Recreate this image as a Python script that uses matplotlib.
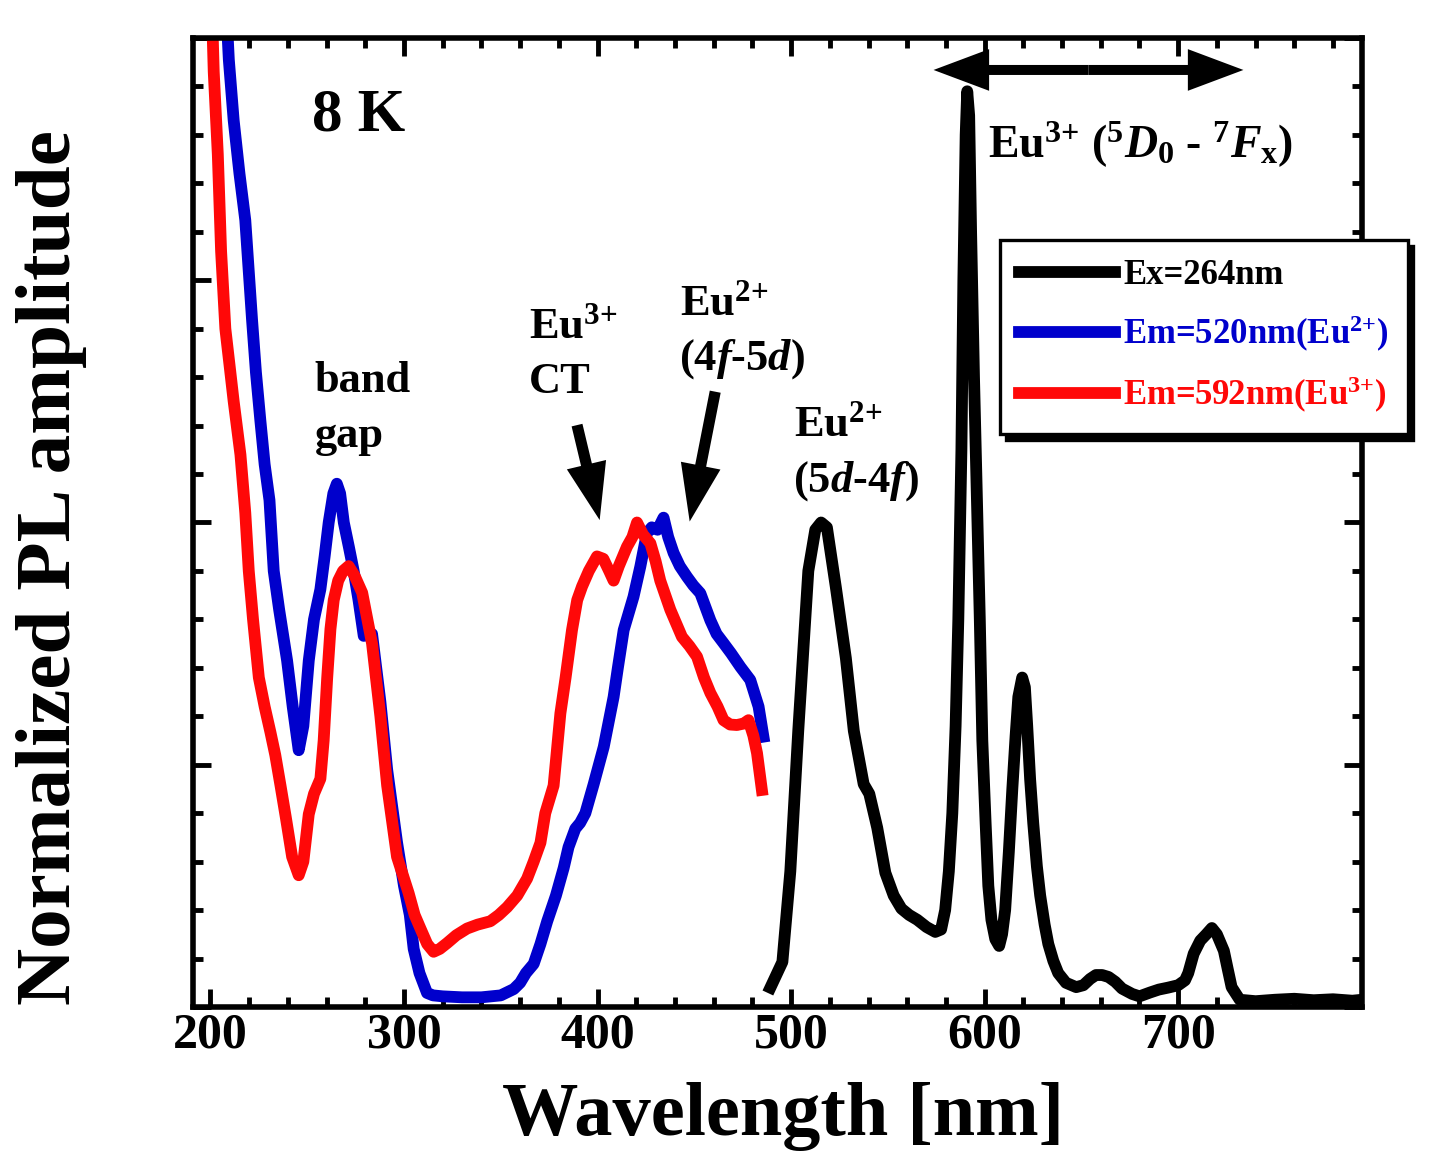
import numpy as np
import matplotlib
matplotlib.use('Agg')
from matplotlib import pyplot as plt
from matplotlib.ticker import MultipleLocator

plt.rcParams['font.family'] = ['Liberation Serif', 'DejaVu Serif']
plt.rcParams['font.weight'] = 'bold'
plt.rcParams['axes.labelweight'] = 'bold'
plt.rcParams['mathtext.fontset'] = 'custom'
plt.rcParams['mathtext.rm'] = 'Liberation Serif:bold'
plt.rcParams['mathtext.bf'] = 'Liberation Serif:bold'
plt.rcParams['mathtext.it'] = 'Liberation Serif:italic:bold'

# Ex=264nm emission spectrum (black)
ex_wl = [489.3, 495.5, 499.6, 503.7, 508.9, 512.5, 515.5, 518.5, 523.1, 528.3,
         532.4, 537.5, 540.4, 544.5, 548.7, 553.0, 557.0, 561.0, 565.2, 570.0,
         574.5, 577.5, 579.6, 581.5, 583.3, 585.0, 586.4, 588.0, 589.0, 590.2,
         591.0, 592.0, 593.0, 594.5, 595.7, 597.5, 598.8, 600.5, 601.9, 603.5,
         605.5, 607.5, 609.0, 610.6, 612.5, 614.3, 616.0, 617.4, 619.4, 620.8,
         622.0, 623.5, 625.1, 627.0, 628.7, 631.0, 632.9, 635.5, 638.0, 642.0,
         647.3, 651.0, 654.5, 657.5, 660.7, 664.0, 667.5, 671.0, 676.2, 680.0,
         685.5, 690.0, 694.8, 700.0, 703.5, 705.2, 708.0, 711.4, 714.5, 717.4,
         720.0, 723.6, 725.5, 727.6, 731.8, 740.0, 750.0, 760.0, 770.0, 780.0,
         790.0, 795.0]
ex_int = [0.04, 0.093, 0.28, 0.57, 0.90, 0.985, 1.0, 0.99, 0.867, 0.72,
          0.57, 0.46, 0.44, 0.37, 0.277, 0.23, 0.203, 0.19, 0.18, 0.165,
          0.155, 0.16, 0.2, 0.28, 0.40, 0.58, 0.8, 1.15, 1.5, 1.8,
          1.89, 1.84, 1.6, 1.3, 1.1, 0.8, 0.55, 0.38, 0.25, 0.18,
          0.14, 0.126, 0.15, 0.2, 0.32, 0.45, 0.56, 0.64, 0.68, 0.66,
          0.58, 0.47, 0.38, 0.29, 0.23, 0.17, 0.13, 0.095, 0.07, 0.05,
          0.041, 0.045, 0.058, 0.066, 0.066, 0.062, 0.052, 0.038, 0.027, 0.022,
          0.03, 0.036, 0.04, 0.045, 0.055, 0.07, 0.11, 0.137, 0.15, 0.163,
          0.15, 0.116, 0.08, 0.041, 0.015, 0.012, 0.015, 0.017, 0.014, 0.016,
          0.013, 0.015]

# Em=520nm excitation spectrum (blue)
em520_wl = [207.7, 209.5, 212.0, 215.0, 218.0, 221.5, 223.5, 225.8, 228.0, 230.5,
            232.7, 235.5, 239.6, 242.5, 245.6, 248.0, 250.8, 253.5, 256.8, 259.0,
            261.1, 263.5, 265.3, 267.0, 268.9, 271.5, 274.0, 276.5, 279.2, 283.5,
            287.8, 291.3, 296.4, 300.0, 303.0, 305.0, 308.0, 311.9, 315.0, 320.0,
            330.0, 340.0, 350.0, 356.7, 360.0, 363.0, 367.0, 370.5, 374.0, 378.5,
            382.5, 385.0, 388.5, 391.0, 393.7, 398.0, 403.2, 408.3, 410.5, 413.5,
            418.6, 422.1, 425.5, 428.0, 431.0, 434.1, 436.5, 439.3, 442.5, 446.2,
            449.5, 453.1, 458.3, 461.5, 465.1, 469.0, 473.8, 478.9, 483.2, 485.7]
em520_int = [2.1, 1.955, 1.83, 1.72, 1.624, 1.418, 1.31, 1.21, 1.12, 1.046,
             0.90, 0.82, 0.715, 0.62, 0.53, 0.58, 0.715, 0.80, 0.862, 0.93,
             1.0, 1.06, 1.08, 1.06, 1.0, 0.95, 0.9, 0.84, 0.766, 0.77,
             0.63, 0.49, 0.34, 0.25, 0.19, 0.12, 0.07, 0.029, 0.024, 0.022,
             0.02, 0.02, 0.024, 0.037, 0.05, 0.07, 0.089, 0.13, 0.177, 0.23,
             0.287, 0.33, 0.368, 0.38, 0.40, 0.46, 0.537, 0.64, 0.70, 0.778,
             0.847, 0.909, 0.978, 0.99, 0.985, 1.01, 0.97, 0.937, 0.91, 0.888,
             0.87, 0.854, 0.798, 0.77, 0.751, 0.73, 0.702, 0.675, 0.62, 0.558]

# Em=592nm excitation spectrum (red)
em592_wl = [200.5, 201.7, 203.8, 205.5, 207.7, 210.0, 212.0, 215.5, 218.0, 219.8,
            222.0, 225.0, 228.0, 231.0, 233.5, 236.2, 239.0, 242.2, 245.6, 248.0,
            250.8, 253.5, 256.8, 258.5, 260.3, 262.0, 263.7, 266.0, 268.5, 271.4,
            274.5, 278.4, 283.5, 287.8, 291.3, 296.4, 302.4, 305.5, 308.5, 312.0,
            315.3, 318.5, 322.3, 327.0, 332.6, 338.0, 344.6, 349.0, 353.3, 358.5,
            363.6, 367.0, 370.5, 373.0, 377.3, 380.8, 383.5, 386.8, 389.5, 392.0,
            395.5, 399.7, 403.0, 406.0, 408.3, 411.0, 415.2, 418.0, 420.4, 423.5,
            427.3, 430.0, 432.4, 437.6, 443.6, 447.5, 451.4, 455.0, 458.3, 462.0,
            465.1, 468.5, 472.0, 475.5, 478.0, 480.5, 482.4, 484.9]
em592_int = [2.1, 1.93, 1.76, 1.56, 1.40, 1.32, 1.25, 1.14, 1.02, 0.90,
             0.80, 0.68, 0.62, 0.567, 0.52, 0.457, 0.39, 0.31, 0.272, 0.30,
             0.398, 0.44, 0.471, 0.55, 0.678, 0.78, 0.84, 0.88, 0.90, 0.91,
             0.89, 0.855, 0.75, 0.60, 0.457, 0.31, 0.235, 0.19, 0.162, 0.13,
             0.114, 0.12, 0.132, 0.148, 0.162, 0.17, 0.177, 0.19, 0.206, 0.23,
             0.265, 0.30, 0.339, 0.40, 0.457, 0.606, 0.68, 0.778, 0.84, 0.868,
             0.90, 0.93, 0.925, 0.90, 0.88, 0.91, 0.95, 0.97, 1.0, 0.975,
             0.957, 0.92, 0.88, 0.82, 0.764, 0.745, 0.723, 0.68, 0.648, 0.62,
             0.592, 0.583, 0.582, 0.585, 0.592, 0.56, 0.524, 0.448]

labels = ['Ex=264nm', r'Em=520nm(Eu$^{\text{2+}}$)', r'Em=592nm(Eu$^{\text{3+}}$)']
colors = ['black', '#0000cc', '#ff0808']

fig = plt.figure(figsize=(14.33, 11.76), dpi=100)
ax = fig.add_axes([0.1347, 0.1437, 0.8158, 0.824])

lw = 8.5
ax.plot(ex_wl, ex_int, color=colors[0], lw=lw, label=labels[0])
ax.plot(em520_wl, em520_int, color=colors[1], lw=lw, label=labels[1])
ax.plot(em592_wl, em592_int, color=colors[2], lw=lw, label=labels[2])

ax.set_xlim(191, 795)
ax.set_ylim(0, 2)
ax.xaxis.set_major_locator(MultipleLocator(100))
ax.xaxis.set_minor_locator(MultipleLocator(20))
ax.yaxis.set_major_locator(MultipleLocator(0.5))
ax.yaxis.set_minor_locator(MultipleLocator(0.1))
ax.tick_params(which='both', direction='in', top=True, right=True, width=3.5,
               labelleft=False, labelsize=36, pad=4)
ax.tick_params(which='major', length=13)
ax.tick_params(which='minor', length=7)
for s in ax.spines.values():
    s.set_linewidth(4)

ax.set_xlabel('Wavelength [nm]', fontsize=55, fontweight='bold', va='baseline')
ax.xaxis.set_label_coords(0.5043, -0.132)
ax.set_ylabel('Normalized PL amplitude', fontsize=57, fontweight='bold', va='baseline')
ax.yaxis.set_label_coords(-0.105, 0.4535)

# annotations
ax.text(252.7, 1.81, '8 K', fontsize=44)
ax.text(253.7, 1.27, 'band', fontsize=32)
ax.text(253.7, 1.156, 'gap', fontsize=32)
ax.text(364.4, 1.38, r'Eu$^{\text{3+}}$', fontsize=32)
ax.text(364.4, 1.267, 'CT', fontsize=32)
ax.text(442.8, 1.428, r'Eu$^{\text{2+}}$', fontsize=32)
ax.text(441.9, 1.315, '(4$f$-5$d$)', fontsize=32)
ax.text(501.3, 1.177, r'Eu$^{\text{2+}}$', fontsize=32)
ax.text(501.0, 1.064, '(5$d$-4$f$)', fontsize=32)
ax.text(601.9, 1.752, r'Eu$^{\text{3+}}$ ($^{5}D_{0}$ - $^{7}F_{\text{x}}$)', fontsize=33)

down = dict(arrowstyle='simple,head_length=4.1,head_width=2.9,tail_width=0.8',
            mutation_scale=10, color='black', lw=0, shrinkA=0, shrinkB=0)
ax.annotate('', xy=(401.1, 1.005), xytext=(389.4, 1.201), arrowprops=down)
ax.annotate('', xy=(447.6, 1.002), xytext=(460.8, 1.27), arrowprops=down)

side = dict(arrowstyle='simple,head_length=4.0,head_width=3.0,tail_width=0.72',
            mutation_scale=10, color='black', lw=0, shrinkA=0, shrinkB=0)
ax.annotate('', xy=(733.7, 1.934), xytext=(653.7, 1.934), arrowprops=side)
ax.annotate('', xy=(573.6, 1.934), xytext=(653.7, 1.934), arrowprops=side)

leg = ax.legend(loc='upper left', bbox_to_anchor=(1000 / 1433, 1 - 240 / 1176),
                bbox_transform=fig.transFigure, fontsize=25, frameon=True,
                fancybox=False, edgecolor='black', framealpha=1,
                shadow={'color': 'black', 'alpha': 1, 'ox': 4, 'oy': -4},
                handlelength=2.75, handletextpad=0.25, borderpad=0.55,
                labelspacing=0.62, borderaxespad=0, labelcolor='linecolor')
leg.get_frame().set_linewidth(2.4)
for line in leg.get_lines():
    line.set_linewidth(lw)

fig.savefig('out.png', dpi=100)
